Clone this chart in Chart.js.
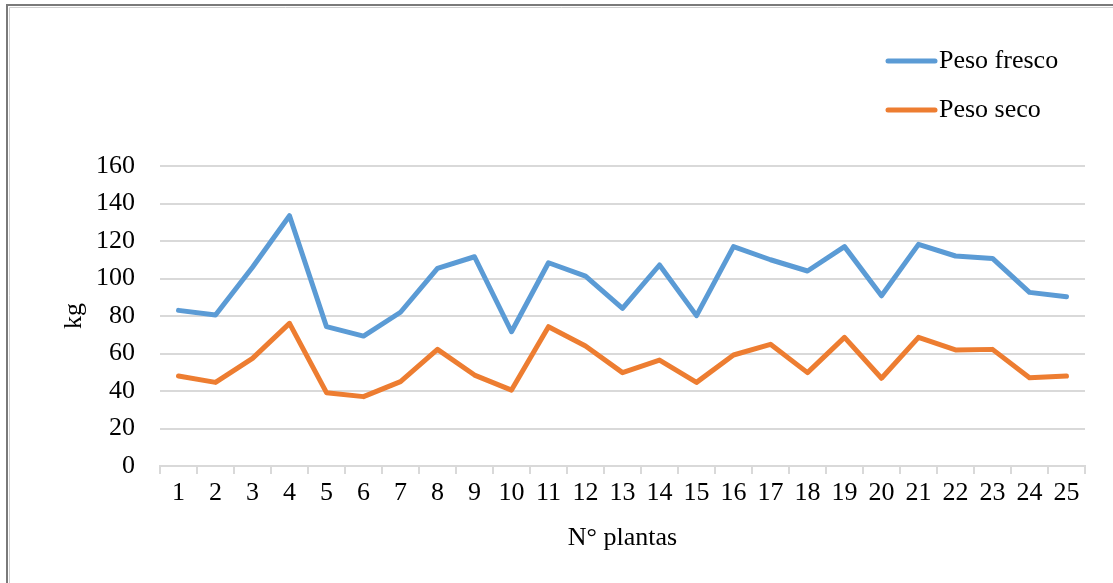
<!DOCTYPE html>
<html>
<head>
<meta charset="utf-8">
<script src="https://cdn.jsdelivr.net/npm/chart.js@4"></script>
<style>
  html, body { margin: 0; padding: 0; background: #fff; }
  #chart { display: block; }
</style>
</head>
<body>
<canvas id="chart" width="1113" height="583"></canvas>
<script>
const plantas = ['1','2','3','4','5','6','7','8','9','10','11','12','13','14','15','16','17','18','19','20','21','22','23','24','25'];
const pesoFresco = [83, 80.5, 106, 133.5, 74.3, 69.3, 82, 105.4, 111.6, 71.6, 108.4, 101.3, 84.1, 107.2, 80.2, 117, 110, 104, 117, 90.8, 118.2, 112, 110.7, 92.6, 90.3];
const pesoSeco = [48, 44.6, 57.4, 76.1, 39.1, 37, 45, 62.2, 48.5, 40.5, 74.3, 64, 49.8, 56.5, 44.6, 59.2, 64.9, 49.8, 68.6, 46.8, 68.6, 61.9, 62.2, 47.1, 48];
const yTicks = [0, 20, 40, 60, 80, 100, 120, 140, 160];

const FONT = 'Liberation Serif';
const gridColor = '#D9D9D9';

// frame + legend drawn by hand (vertical legend in the top right)
const framePlugin = {
    id: 'frame',
    beforeDraw(chart) {
        const ctx = chart.ctx;
        ctx.save();
        ctx.fillStyle = '#fff';
        ctx.fillRect(0, 0, chart.width, chart.height);
        ctx.strokeStyle = '#7a7a7a';
        ctx.lineWidth = 2;
        ctx.beginPath();
        ctx.moveTo(7, chart.height);
        ctx.lineTo(7, 5);
        ctx.lineTo(chart.width, 5);
        ctx.stroke();
        ctx.strokeStyle = '#cfcfcf';
        ctx.lineWidth = 1;
        ctx.beginPath();
        ctx.moveTo(9.5, chart.height);
        ctx.lineTo(9.5, 7.5);
        ctx.lineTo(chart.width, 7.5);
        ctx.stroke();
        ctx.restore();
    },
    afterDraw(chart) {
        const ctx = chart.ctx;
        ctx.save();
        chart.data.datasets.forEach((ds, i) => {
            const y = 61 + i * 49;
            ctx.strokeStyle = ds.borderColor;
            ctx.lineWidth = 5;
            ctx.lineCap = 'round';
            ctx.beginPath();
            ctx.moveTo(888, y);
            ctx.lineTo(935, y);
            ctx.stroke();
            ctx.fillStyle = '#000';
            ctx.font = '26px "' + FONT + '"';
            ctx.textBaseline = 'middle';
            ctx.fillText(ds.label, 939, y);
        });
        ctx.restore();
    }
};

new Chart(document.getElementById('chart'), {
    type: 'line',
    data: {
        labels: plantas,
        datasets: [
            {
                label: 'Peso fresco',
                data: pesoFresco,
                borderColor: '#5B9BD5',
                backgroundColor: '#5B9BD5',
                borderWidth: 5,
                pointRadius: 0,
                tension: 0,
                borderJoinStyle: 'round',
                borderCapStyle: 'round'
            },
            {
                label: 'Peso seco',
                data: pesoSeco,
                borderColor: '#ED7D31',
                backgroundColor: '#ED7D31',
                borderWidth: 5,
                pointRadius: 0,
                tension: 0,
                borderJoinStyle: 'round',
                borderCapStyle: 'round'
            }
        ]
    },
    options: {
        responsive: false,
        animation: false,
        layout: { padding: { top: 166, right: 28, left: 0, bottom: 0 } },
        plugins: {
            legend: { display: false },
            tooltip: { enabled: false }
        },
        scales: {
            x: {
                offset: true,
                grid: {
                    offset: true,
                    drawOnChartArea: false,
                    drawTicks: true,
                    tickLength: 8,
                    color: gridColor,
                    lineWidth: 2
                },
                border: { display: true, color: gridColor, width: 2 },
                ticks: {
                    color: '#000',
                    font: { family: FONT, size: 26 },
                    padding: 4,
                    maxRotation: 0,
                    autoSkip: false
                },
                title: {
                    display: true,
                    text: 'N° plantas',
                    color: '#000',
                    font: { family: FONT, size: 26 },
                    padding: { top: 0, bottom: 29 }
                },
                afterFit(scale) { scale.height = 117; }
            },
            y: {
                min: 0,
                max: 160,
                afterBuildTicks(scale) { scale.ticks = yTicks.map(v => ({ value: v })); },
                grid: {
                    color: gridColor,
                    lineWidth: 2,
                    drawTicks: false
                },
                border: { display: false },
                ticks: {
                    color: '#000',
                    font: { family: FONT, size: 26 },
                    padding: 25
                },
                title: {
                    display: true,
                    text: 'kg',
                    color: '#000',
                    font: { family: FONT, size: 26 },
                    padding: { top: 59, bottom: 0 }
                },
                afterFit(scale) { scale.width = 160; }
            }
        }
    },
    plugins: [framePlugin]
});
</script>
</body>
</html>
